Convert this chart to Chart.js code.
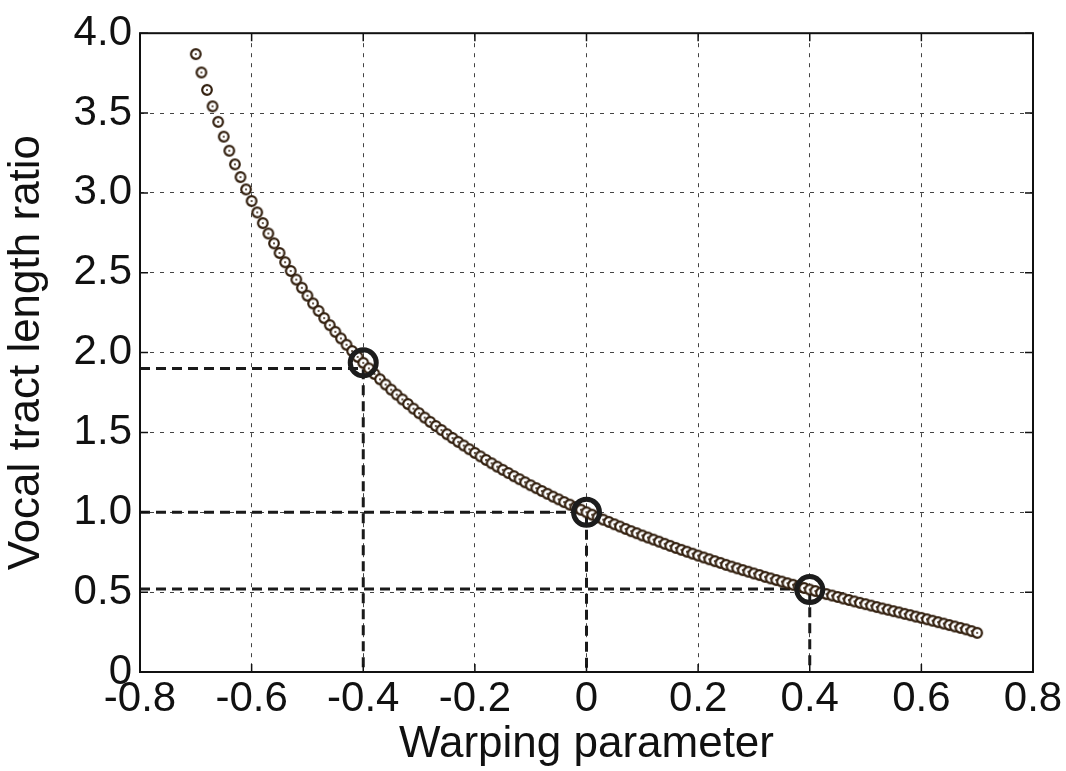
<!DOCTYPE html>
<html>
<head>
<meta charset="utf-8">
<script src="https://cdn.jsdelivr.net/npm/chart.js@4/dist/chart.umd.min.js"></script>
<style>
  body { margin: 0; background: #fff; }
  #wrap { width: 1066px; height: 771px; }
</style>
</head>
<body>
<div id="wrap"><canvas id="chart" width="1066" height="771"></canvas></div>
<script>
// warping parameter values (x) of the sampled curve
const alphas = [
  -0.70, -0.69, -0.68, -0.67, -0.66, -0.65, -0.64, -0.63, -0.62, -0.61,
  -0.60, -0.59, -0.58, -0.57, -0.56, -0.55, -0.54, -0.53, -0.52, -0.51,
  -0.50, -0.49, -0.48, -0.47, -0.46, -0.45, -0.44, -0.43, -0.42, -0.41,
  -0.40, -0.39, -0.38, -0.37, -0.36, -0.35, -0.34, -0.33, -0.32, -0.31,
  -0.30, -0.29, -0.28, -0.27, -0.26, -0.25, -0.24, -0.23, -0.22, -0.21,
  -0.20, -0.19, -0.18, -0.17, -0.16, -0.15, -0.14, -0.13, -0.12, -0.11,
  -0.10, -0.09, -0.08, -0.07, -0.06, -0.05, -0.04, -0.03, -0.02, -0.01,
  0.00,
  0.01, 0.02, 0.03, 0.04, 0.05, 0.06, 0.07, 0.08, 0.09, 0.10,
  0.11, 0.12, 0.13, 0.14, 0.15, 0.16, 0.17, 0.18, 0.19, 0.20,
  0.21, 0.22, 0.23, 0.24, 0.25, 0.26, 0.27, 0.28, 0.29, 0.30,
  0.31, 0.32, 0.33, 0.34, 0.35, 0.36, 0.37, 0.38, 0.39, 0.40,
  0.41, 0.42, 0.43, 0.44, 0.45, 0.46, 0.47, 0.48, 0.49, 0.50,
  0.51, 0.52, 0.53, 0.54, 0.55, 0.56, 0.57, 0.58, 0.59, 0.60,
  0.61, 0.62, 0.63, 0.64, 0.65, 0.66, 0.67, 0.68, 0.69, 0.70
];

// vocal tract length ratio
const ratios = [
  3.869, 3.754, 3.645, 3.542, 3.445, 3.352, 3.264, 3.179, 3.099, 3.022,
  2.949, 2.878, 2.811, 2.746, 2.684, 2.624, 2.566, 2.511, 2.457, 2.406,
  2.356, 2.308, 2.261, 2.216, 2.172, 2.130, 2.089, 2.049, 2.010, 1.973,
  1.936, 1.901, 1.866, 1.833, 1.800, 1.768, 1.737, 1.707, 1.678, 1.649,
  1.621, 1.593, 1.566, 1.540, 1.515, 1.489, 1.465, 1.441, 1.418, 1.395,
  1.372, 1.350, 1.328, 1.307, 1.286, 1.266, 1.246, 1.226, 1.207, 1.188,
  1.169, 1.151, 1.133, 1.116, 1.098, 1.081, 1.064, 1.048, 1.032, 1.016,
  1.000,
  0.985, 0.969, 0.954, 0.940, 0.925, 0.911, 0.896, 0.882, 0.869, 0.855,
  0.842, 0.829, 0.816, 0.803, 0.790, 0.777, 0.765, 0.753, 0.741, 0.729,
  0.717, 0.706, 0.694, 0.683, 0.671, 0.660, 0.649, 0.638, 0.628, 0.617,
  0.607, 0.596, 0.586, 0.576, 0.566, 0.556, 0.546, 0.536, 0.526, 0.516,
  0.507, 0.497, 0.488, 0.479, 0.470, 0.460, 0.451, 0.442, 0.433, 0.425,
  0.416, 0.407, 0.398, 0.390, 0.381, 0.373, 0.364, 0.356, 0.347, 0.339,
  0.330, 0.321, 0.312, 0.303, 0.294, 0.285, 0.276, 0.267, 0.256, 0.245
];

// highlighted points (big circles) and their dashed guide values
const markX = [-0.4, 0, 0.4];
const markY = [1.936, 1.0, 0.516];
const guideY = [1.9, 1.0, 0.52];

const xTicks = [-0.8, -0.6, -0.4, -0.2, 0, 0.2, 0.4, 0.6, 0.8];
const yTicks = [0, 0.5, 1.0, 1.5, 2.0, 2.5, 3.0, 3.5, 4.0];

const fmt = (v) => (Math.abs(v) < 1e-9 ? "0" : v.toFixed(1));
const FONT = "Liberation Sans, Arial, sans-serif";

// small ring with a dot in the middle, like the matlab marker
const dotRing = document.createElement("canvas");
dotRing.width = 14;
dotRing.height = 14;
{
  const c = dotRing.getContext("2d");
  c.beginPath();
  c.arc(7, 7, 4.8, 0, Math.PI * 2);
  c.fillStyle = "#fff";
  c.fill();
  c.lineWidth = 2.2;
  c.strokeStyle = "#33200f";
  c.stroke();
  c.beginPath();
  c.arc(7, 7, 1.0, 0, Math.PI * 2);
  c.fillStyle = "#33200f";
  c.fill();
}

// dashed guides: horizontal from left edge, then down to the x axis
const guideSets = markX.map((x, i) => ({
  type: "line",
  data: [{ x: -0.8, y: guideY[i] }, { x: x, y: guideY[i] }, { x: x, y: 0 }],
  borderColor: "#1a1a1a",
  borderWidth: 3,
  borderDash: [10, 6],
  pointRadius: 0,
  fill: false,
  order: 3,
}));

// frame around the plot and inward ticks
const framePlugin = {
  id: "frame",
  afterDatasetsDraw(chart) {
    const { ctx, chartArea: a, scales } = chart;
    ctx.save();
    ctx.strokeStyle = "#111";
    ctx.lineWidth = 2;
    ctx.setLineDash([]);
    ctx.strokeRect(a.left, a.top, a.right - a.left, a.bottom - a.top);
    ctx.lineWidth = 1.5;
    ctx.beginPath();
    xTicks.forEach((t) => {
      const px = scales.x.getPixelForValue(t);
      ctx.moveTo(px, a.bottom); ctx.lineTo(px, a.bottom - 8);
      ctx.moveTo(px, a.top); ctx.lineTo(px, a.top + 8);
    });
    yTicks.forEach((t) => {
      const py = scales.y.getPixelForValue(t);
      ctx.moveTo(a.left, py); ctx.lineTo(a.left + 8, py);
      ctx.moveTo(a.right, py); ctx.lineTo(a.right - 8, py);
    });
    ctx.stroke();
    ctx.restore();
  },
};

const ctx = document.getElementById("chart").getContext("2d");
new Chart(ctx, {
  type: "scatter",
  data: {
    datasets: [
      {
        label: "ratio",
        data: alphas.map((x, i) => ({ x: x, y: ratios[i] })),
        pointStyle: dotRing,
        pointRadius: 5,
        showLine: false,
        order: 2,
      },
      {
        label: "marks",
        data: markX.map((x, i) => ({ x: x, y: markY[i] })),
        pointStyle: "circle",
        pointRadius: 13,
        borderWidth: 5,
        borderColor: "#1c1c1c",
        backgroundColor: "rgba(0,0,0,0)",
        showLine: false,
        order: 1,
      },
      ...guideSets,
    ],
  },
  options: {
    responsive: false,
    animation: false,
    events: [],
    layout: { padding: { top: 32, right: 33, left: 0, bottom: 0 } },
    plugins: {
      legend: { display: false },
      tooltip: { enabled: false },
    },
    scales: {
      x: {
        type: "linear",
        min: -0.8,
        max: 0.8,
        afterBuildTicks: (s) => { s.ticks = xTicks.map((v) => ({ value: v })); },
        afterFit: (s) => { s.height = 99; },
        ticks: {
          callback: (v) => fmt(v),
          color: "#111",
          font: { family: FONT, size: 42 },
          padding: 2,
          maxRotation: 0,
        },
        grid: { color: "#444", lineWidth: 1, drawTicks: false },
        border: { display: false, dash: [4, 6] },
        title: {
          display: true,
          text: "Warping parameter",
          color: "#111",
          font: { family: FONT, size: 44 },
          padding: { top: -4, bottom: 0 },
        },
      },
      y: {
        type: "linear",
        min: 0,
        max: 4,
        afterBuildTicks: (s) => { s.ticks = yTicks.map((v) => ({ value: v })); },
        afterFit: (s) => { s.width = 140; },
        ticks: {
          callback: (v) => fmt(v),
          color: "#111",
          font: { family: FONT, size: 42 },
          padding: 8,
        },
        grid: { color: "#444", lineWidth: 1, drawTicks: false },
        border: { display: false, dash: [4, 6] },
        title: {
          display: true,
          text: "Vocal tract length ratio",
          color: "#111",
          font: { family: FONT, size: 44 },
          padding: { top: 0, bottom: 0 },
        },
      },
    },
  },
  plugins: [framePlugin],
});
</script>
</body>
</html>
